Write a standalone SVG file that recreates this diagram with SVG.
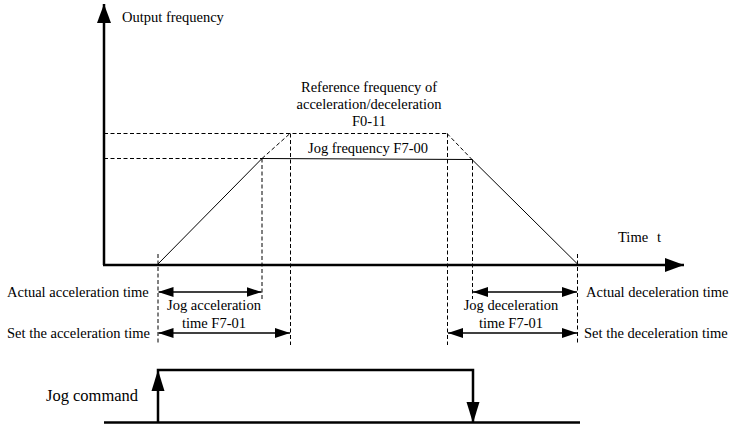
<svg xmlns="http://www.w3.org/2000/svg" width="734" height="428" viewBox="0 0 734 428">
<style>
text{font-family:"Liberation Serif","Times New Roman",serif;font-size:14.5px;fill:#000}
.ax{stroke:#000;stroke-width:2.5;fill:none}
.ln{stroke:#000;stroke-width:1;fill:none}
.ds{stroke:#000;stroke-width:1;stroke-dasharray:4 2.5;fill:none}
.dim{stroke:#000;stroke-width:1.3;fill:none;marker-start:url(#ah);marker-end:url(#ah)}
.mid{text-anchor:middle}
</style>
<defs>
<marker id="ah" viewBox="0 0 15 10" refX="15" refY="5" markerWidth="15" markerHeight="10" markerUnits="userSpaceOnUse" orient="auto-start-reverse">
<path d="M0,0 L15,5 L0,10 Z" fill="#000"/>
</marker>
<marker id="big" viewBox="0 0 19 14" refX="19" refY="7" markerWidth="19" markerHeight="14" markerUnits="userSpaceOnUse" orient="auto">
<path d="M0,0 L19,7 L0,14 Z" fill="#000"/>
</marker>
</defs>
<g id="axes">
<line class="ax" x1="104" y1="265" x2="104" y2="4" marker-end="url(#big)"/>
<line class="ax" x1="103" y1="265" x2="684" y2="265" marker-end="url(#big)"/>
<text x="122" y="22">Output frequency</text>
<text x="618" y="242">Time</text>
<text x="657" y="242">t</text>
</g>
<g id="curves">
<line class="ds" x1="104" y1="133.5" x2="447" y2="133.5"/>
<line class="ds" x1="104" y1="158.5" x2="262" y2="158.5"/>
<line class="ln" x1="158" y1="264" x2="262" y2="158.5"/>
<line class="ds" x1="262" y1="158.5" x2="290" y2="133.5"/>
<line class="ln" x1="262" y1="158.5" x2="472" y2="159.5"/>
<line class="ds" x1="447" y1="133.5" x2="472" y2="159.5"/>
<line class="ln" x1="472" y1="159.5" x2="577.5" y2="264"/>
</g>
<g id="guides">
<line class="ds" x1="158" y1="254" x2="158" y2="345"/>
<line class="ds" x1="262" y1="158.5" x2="262" y2="299"/>
<line class="ds" x1="290.5" y1="133.5" x2="290.5" y2="345"/>
<line class="ds" x1="447.5" y1="133.5" x2="447.5" y2="345"/>
<line class="ds" x1="472.5" y1="159.5" x2="472.5" y2="299"/>
<line class="ds" x1="577.5" y1="254" x2="577.5" y2="345"/>
</g>
<g id="labels">
<text class="mid" x="369" y="92">Reference frequency of</text>
<text class="mid" x="369" y="109">acceleration/deceleration</text>
<text class="mid" x="369" y="126">F0-11</text>
<text class="mid" x="368" y="153">Jog frequency F7-00</text>
</g>
<g id="dims">
<line class="dim" x1="158.5" y1="292" x2="261.5" y2="292"/>
<line class="dim" x1="158.5" y1="333" x2="290" y2="333"/>
<line class="dim" x1="473" y1="292" x2="577" y2="292"/>
<line class="dim" x1="448" y1="333" x2="577" y2="333"/>
<text x="7" y="297">Actual acceleration time</text>
<text x="7" y="338">Set the acceleration time</text>
<text class="mid" x="214" y="310">Jog acceleration</text>
<text class="mid" x="214" y="328">time F7-01</text>
<text class="mid" x="511" y="310">Jog deceleration</text>
<text class="mid" x="511" y="328">time F7-01</text>
<text x="586" y="297">Actual deceleration time</text>
<text x="584" y="338">Set the deceleration time</text>
</g>
<g id="jog">
<line class="ax" x1="104" y1="422.5" x2="580" y2="422.5"/>
<polyline class="ax" points="158,422.5 158,370 473,370 473,422"/>
<path d="M151.5,391 L158,370 L164.5,391 Z" fill="#000"/>
<path d="M466.5,402 L473,423 L479.5,402 Z" fill="#000"/>
<text x="46" y="401" style="font-size:16.5px">Jog command</text>
</g>
</svg>
